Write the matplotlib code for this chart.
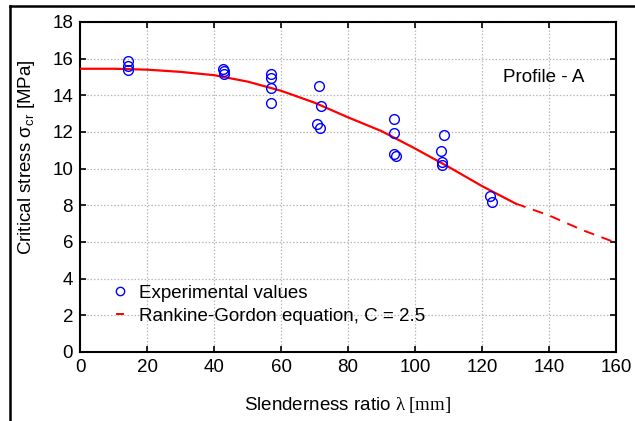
import matplotlib
matplotlib.use("Agg")
import matplotlib.pyplot as plt
from matplotlib.lines import Line2D
import numpy as np

# Experimental values
lam_exp = [14.4, 14.4, 14.4, 42.6, 42.9, 43.0, 57.0, 57.0, 57.0, 57.0,
           71.3, 72.0, 70.8, 71.6, 93.8, 93.8, 93.8, 94.3,
           108.7, 107.7, 108.2, 108.2, 122.4, 123.0]
sig_exp = [15.87, 15.6, 15.37, 15.42, 15.33, 15.15, 15.15, 14.96, 14.42, 13.6,
           14.5, 13.42, 12.42, 12.23, 12.72, 11.95, 10.8, 10.7,
           11.82, 10.96, 10.34, 10.21, 8.5, 8.17]

# Rankine-Gordon curve
lam_fit = [0, 10, 20, 30, 40, 50, 60, 70, 80, 90, 100, 110, 120, 130, 140, 150, 160]
sig_fit = [15.45, 15.45, 15.4, 15.28, 15.1, 14.75, 14.25, 13.6, 12.8, 12.05,
           11.1, 10.1, 9.05, 8.1, 7.45, 6.65, 5.96]

xticks = [0, 20, 40, 60, 80, 100, 120, 140, 160]
yticks = [0, 2, 4, 6, 8, 10, 12, 14, 16, 18]

plt.rcParams['font.family'] = ['Liberation Sans', 'DejaVu Sans']
plt.rcParams['mathtext.fontset'] = 'custom'
plt.rcParams['mathtext.rm'] = 'Liberation Serif'
plt.rcParams['mathtext.it'] = 'Liberation Serif:italic'
plt.rcParams['mathtext.sf'] = 'Liberation Sans'

W, H = 635, 421
fig = plt.figure(figsize=(W / 100, H / 100), dpi=100)
ax = fig.add_axes([80 / W, 1 - 352 / H, (616 - 80) / W, (352 - 22) / H])

lam_fit_a = np.array(lam_fit)
sig_fit_a = np.array(sig_fit)
m1 = lam_fit_a <= 130
m2 = lam_fit_a >= 130
ax.plot(lam_fit_a[m1], sig_fit_a[m1], color='red', lw=1.6, zorder=3)
ax.plot(lam_fit_a[m2], sig_fit_a[m2], color='red', lw=1.4, linestyle=(0, (5.5, 4)), zorder=3)

ax.plot(lam_exp, sig_exp, linestyle='none', marker='o', markersize=7,
        markerfacecolor='none', markeredgecolor='#0000ff', markeredgewidth=1.0, zorder=4)

ax.set_xlim(0, 160)
ax.set_ylim(0, 18)
ax.set_xticks(xticks)
ax.set_yticks(yticks)
ax.tick_params(direction='in', length=4, width=1.2, top=True, right=True,
               labelsize=13.5, colors='black', pad=5)
ax.grid(True, color='#b8b8b8', linestyle=(0, (1.2, 1.5)), linewidth=0.9)
for s in ax.spines.values():
    s.set_linewidth(1.5)

fig.text(27 / W, 1 - 157 / H, r"Critical stress $\mathsf{\sigma_{cr}}$ [MPa]",
         rotation=90, ha='center', va='center', fontsize=13.5)
fig.text(348 / W, 1 - 405 / H, r"Slenderness ratio $\mathrm{\lambda\ [mm]}$",
         ha='center', va='center', fontsize=13.5)

ax.text(150.7, 15.0, "Profile - A", ha='right', va='center', fontsize=13.5)

handles = [Line2D([], [], linestyle='none', marker='o', markersize=6,
                  markerfacecolor='none', markeredgecolor='#0000ff', markeredgewidth=1.0),
           Line2D([], [], color='red', lw=1.4)]
leg = ax.legend(handles, ["Experimental values", "Rankine-Gordon equation, C = 2.5"],
                loc='lower left', bbox_to_anchor=(0.055, 0.06), frameon=False,
                fontsize=13.5, handlelength=0.3, handletextpad=0.9, labelspacing=0.3,
                borderaxespad=0)

# figure frame (left and top edges visible)
fig.add_artist(Line2D([9.5 / W, 9.5 / W], [0, 1 - 5.5 / H], color='black', lw=1.8,
                      transform=fig.transFigure))
fig.add_artist(Line2D([9.5 / W, 1], [1 - 5.5 / H, 1 - 5.5 / H], color='black', lw=1.8,
                      transform=fig.transFigure))

fig.savefig("out.png", dpi=100)
